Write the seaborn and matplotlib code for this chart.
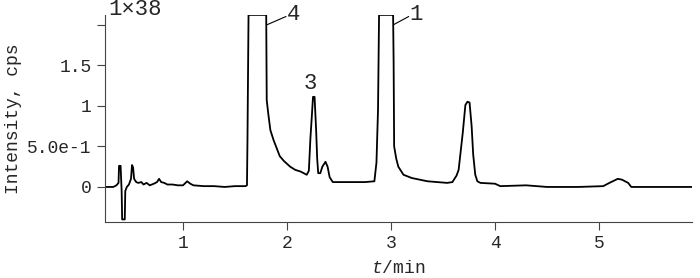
import numpy as np
import pandas as pd
import matplotlib
matplotlib.use("Agg")
import matplotlib.pyplot as plt
import seaborn as sns

# retention time (min) and intensity (x1e38 cps)
time_min = [
    0.25, 0.33, 0.36, 0.38, 0.385, 0.40, 0.405, 0.41, 0.415, 0.44, 0.445, 0.46,
    0.48, 0.50, 0.51, 0.52, 0.53, 0.55, 0.57, 0.60, 0.62, 0.65, 0.68, 0.72,
    0.75, 0.77, 0.79, 0.82, 0.85, 0.90, 0.95, 1.00, 1.04, 1.07, 1.10, 1.20,
    1.30, 1.40, 1.50, 1.60, 1.615, 1.62, 1.63, 1.80, 1.805, 1.82, 1.84, 1.87,
    1.90, 1.93, 1.97, 2.03, 2.08, 2.13, 2.19, 2.21, 2.225, 2.24, 2.25, 2.265,
    2.28, 2.29, 2.30, 2.32, 2.34, 2.37, 2.39, 2.41, 2.44, 2.60, 2.75, 2.84,
    2.86, 2.875, 2.885, 3.02, 3.025, 3.03, 3.05, 3.07, 3.12, 3.20, 3.35, 3.54,
    3.59, 3.63, 3.65, 3.69, 3.715, 3.735, 3.755, 3.775, 3.79, 3.81, 3.83, 3.86,
    4.00, 4.05, 4.30, 4.50, 4.80, 5.04, 5.10, 5.18, 5.22, 5.28, 5.31, 5.60,
    5.89,
]
intensity = [
    0.00, 0.00, 0.02, 0.05, 0.26, 0.26, 0.10, -0.05, -0.40, -0.40, -0.05, 0.00,
    0.03, 0.10, 0.27, 0.24, 0.10, 0.06, 0.05, 0.06, 0.03, 0.05, 0.02, 0.04,
    0.06, 0.10, 0.06, 0.05, 0.03, 0.03, 0.02, 0.02, 0.07, 0.04, 0.02, 0.01,
    0.01, 0.00, 0.01, 0.01, 0.02, 0.60, 2.12, 2.12, 1.07, 0.90, 0.70, 0.58,
    0.48, 0.38, 0.32, 0.25, 0.21, 0.19, 0.15, 0.20, 0.60, 0.90, 1.11, 1.11,
    0.70, 0.35, 0.17, 0.17, 0.25, 0.31, 0.25, 0.12, 0.06, 0.06, 0.06, 0.07,
    0.30, 0.95, 2.12, 2.12, 1.54, 0.50, 0.35, 0.25, 0.15, 0.11, 0.07, 0.05,
    0.06, 0.14, 0.21, 0.67, 1.01, 1.05, 1.04, 0.75, 0.40, 0.15, 0.07, 0.05,
    0.04, 0.01, 0.02, 0.00, 0.00, 0.01, 0.05, 0.10, 0.09, 0.05, 0.00, 0.00,
    0.00,
]

ytick_vals = [0, 0.5, 1, 1.5, 2]
ytick_labels = ["0", "5.0e-1", "1", "1.5", ""]
xtick_vals = [1, 2, 3, 4, 5]

# peak labels and their leader lines (start on the peak, end near the label)
peak_names = ["4", "1", "3"]
peak_text_xy = [(2.06, 2.13), (3.24, 2.13), (2.225, 1.28)]
leader_start = [(1.81, 2.00), (3.025, 2.00), None]
leader_end = [(1.99, 2.10), (3.17, 2.10), None]

df = pd.DataFrame({"t": time_min, "I": intensity})

sns.set_style("ticks")
plt.rcParams["font.family"] = ["Liberation Mono", "DejaVu Sans"]
plt.rcParams["mathtext.fontset"] = "custom"
plt.rcParams["mathtext.it"] = "Liberation Mono:italic"
plt.rcParams["mathtext.rm"] = "Liberation Mono"

fig = plt.figure(figsize=(7, 2.78), dpi=100)
ax = fig.add_axes([0.15, 0.2014, 0.838, 0.745])

sns.lineplot(data=df, x="t", y="I", ax=ax, color="black", linewidth=1.3,
             sort=False, estimator=None)

ax.set_xlim(0.25, 5.89)
ax.set_ylim(-0.432, 2.12)
ax.set_xticks(xtick_vals)
ax.set_xticklabels([str(v) for v in xtick_vals])
ax.set_yticks(ytick_vals)
ax.set_yticklabels(ytick_labels)
ax.tick_params(axis="both", labelsize=13, length=6, width=0.8, color="#444444")

for s in ["top", "right"]:
    ax.spines[s].set_visible(False)
for s in ["left", "bottom"]:
    ax.spines[s].set_linewidth(0.8)
    ax.spines[s].set_color("#444444")

ax.set_ylabel("Intensity, cps", fontsize=13, labelpad=4)
ax.set_xlabel(r"$t$/min", fontsize=13, labelpad=0)
ax.xaxis.set_label_coords(0.5, -0.185)

for name, (tx, ty), p0, p1 in zip(peak_names, peak_text_xy, leader_start, leader_end):
    ax.text(tx, ty, name, ha="center", va="center", fontsize=16, clip_on=False)
    if p0 is not None:
        ax.annotate("", xy=p0, xytext=p1, annotation_clip=False,
                    arrowprops=dict(arrowstyle="-", lw=0.8, color="black",
                                    shrinkA=0, shrinkB=0))

ax.text(0.005, 1.025, "1×38", transform=ax.transAxes, ha="left", va="center",
        fontsize=16)

fig.savefig("out.png", dpi=100)
